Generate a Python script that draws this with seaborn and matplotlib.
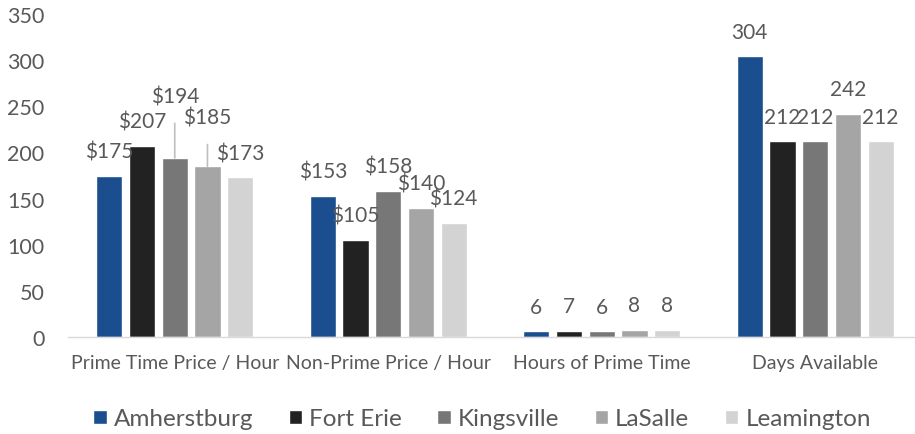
import matplotlib
matplotlib.use("Agg")
import matplotlib.pyplot as plt
import seaborn as sns
import pandas as pd

# Facility comparison data
categories = ["Prime Time Price / Hour", "Non-Prime Price / Hour",
              "Hours of Prime Time", "Days Available"]
towns = ["Amherstburg", "Fort Erie", "Kingsville", "LaSalle", "Leamington"]
amherstburg = [175, 153, 6, 304]
fort_erie = [207, 105, 7, 212]
kingsville = [194, 158, 6, 212]
lasalle = [185, 140, 8, 242]
leamington = [173, 124, 8, 212]
y_ticks = [0, 50, 100, 150, 200, 250, 300, 350]

series = [amherstburg, fort_erie, kingsville, lasalle, leamington]
colors = ["#1B4E8E", "#222222", "#777777", "#A5A5A5", "#D3D3D3"]
text_color = "#595959"

rows = []
for town, vals in zip(towns, series):
    for cat, v in zip(categories, vals):
        rows.append({"category": cat, "town": town, "value": v})
df = pd.DataFrame(rows)

sns.set_theme(style="white")
plt.rcParams["font.family"] = ["Lato", "DejaVu Sans"]

fig = plt.figure(figsize=(9.15, 4.35), dpi=100)
ax = fig.add_axes([68 / 915, 97 / 435, (922 - 68) / 915, (338 - 15) / 435])

sns.barplot(data=df, x="category", y="value", hue="town", order=categories,
            hue_order=towns, palette=colors, width=0.766, gap=0.2,
            saturation=1, legend=True, ax=ax, errorbar=None)

ax.set_ylim(0, 350)
ax.set_yticks(y_ticks)
ax.set_xlim(-0.5, len(categories) - 0.5)
ax.set_xlabel("")
ax.set_ylabel("")
for s in ["top", "right", "left"]:
    ax.spines[s].set_visible(False)
ax.spines["bottom"].set_color("#D9D9D9")
ax.spines["bottom"].set_linewidth(1.0)
ax.tick_params(axis="y", length=0, labelsize=15.5, labelcolor=text_color, pad=17)
ax.tick_params(axis="x", length=0, labelsize=14, labelcolor=text_color, pad=12)

# Labels lifted clear of their neighbours, joined to the bar by a leader line
lifted = {(0, 2): 261, (0, 3): 238}

for ti, container in enumerate(ax.containers):
    for ci, bar in enumerate(container):
        val = series[ti][ci]
        label = f"${val}" if ci < 2 else f"{val}"
        xc = bar.get_x() + bar.get_width() / 2
        top = bar.get_height()
        if (ci, ti) in lifted:
            ly = lifted[(ci, ti)]
            ax.annotate(label, xy=(xc, top), xytext=(xc, ly),
                        ha="center", va="center", fontsize=15, color=text_color,
                        arrowprops=dict(arrowstyle="-", color="#BFBFBF", lw=1.2,
                                        shrinkA=10, shrinkB=0))
        else:
            ax.annotate(label, xy=(xc, top), xytext=(0, 17.5),
                        textcoords="offset points", ha="center", va="center",
                        fontsize=15, color=text_color)

handles, labels = ax.get_legend_handles_labels()
ax.legend_.remove()
fig.legend(handles, labels, loc="center", bbox_to_anchor=(482 / 915, 1 - 420 / 435),
           ncol=5, frameon=False, fontsize=17.5, handlelength=0.55, handleheight=0.55,
           handletextpad=0.3, columnspacing=1.45, labelcolor=text_color)

fig.savefig("out.png", dpi=100)
